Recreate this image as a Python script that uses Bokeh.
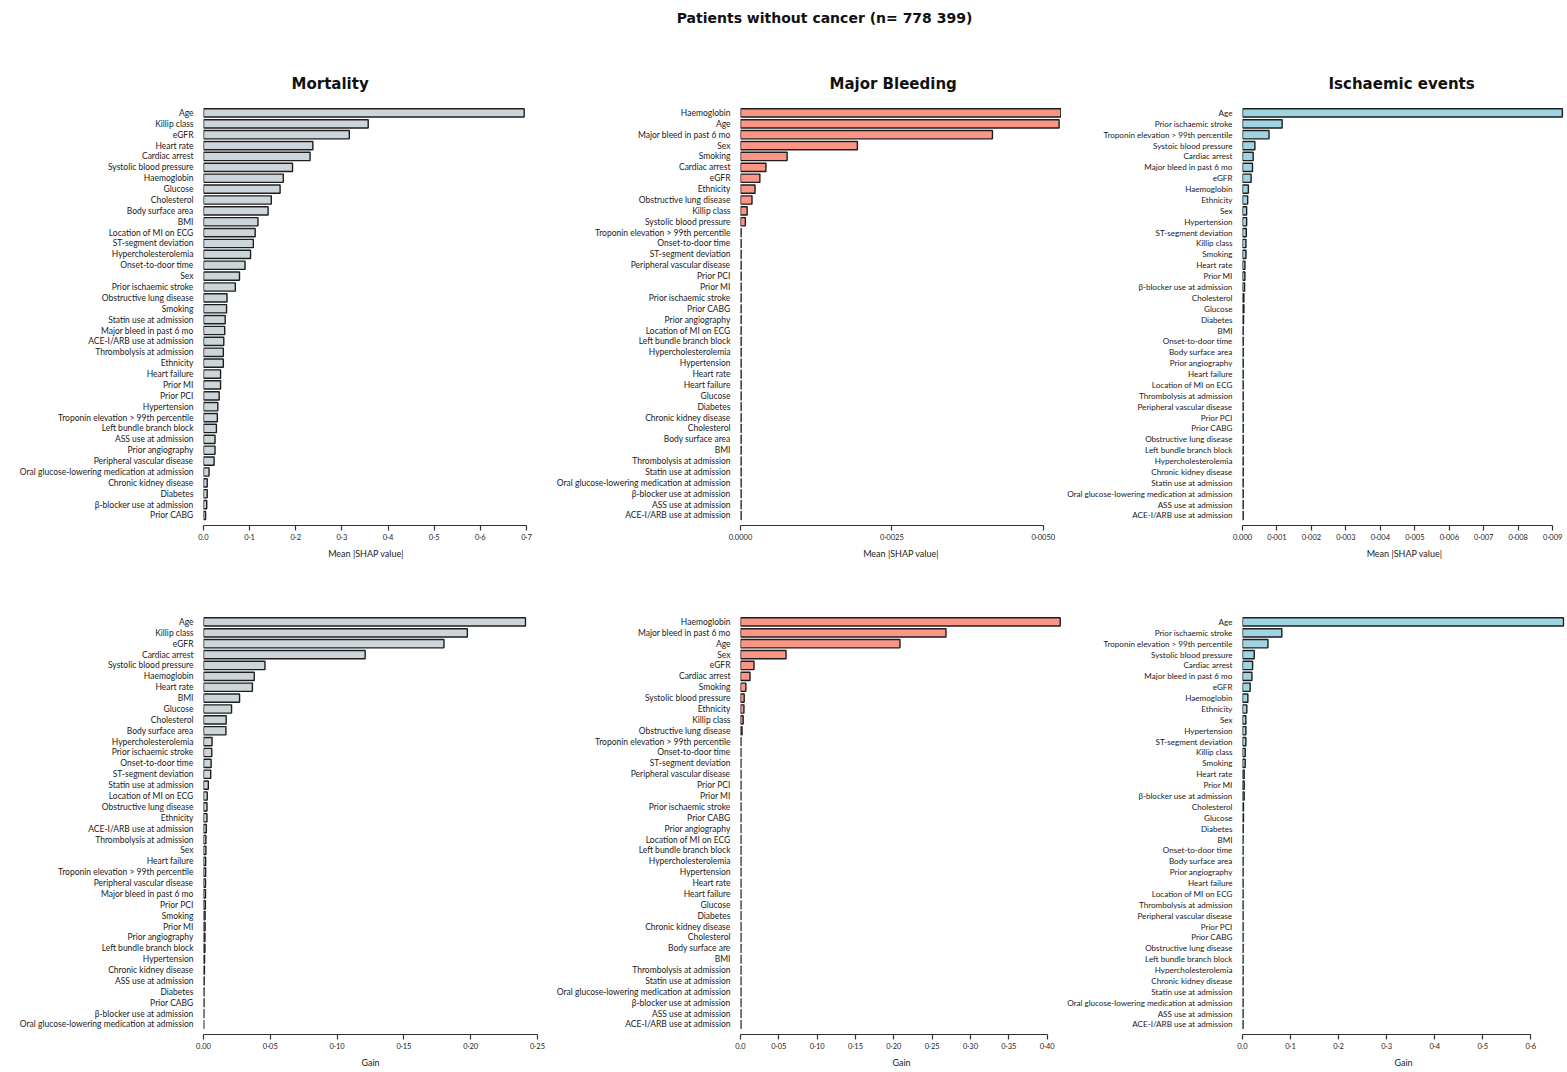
from bokeh.plotting import figure
from bokeh.layouts import column, row
from bokeh.models import Range1d, FixedTicker, ColumnDataSource
from bokeh.core.properties import value
from bokeh.embed import file_html
from bokeh.resources import INLINE

overall_title = "Patients without cancer (n= 778 399)"
panel_titles = ["Mortality", "Major Bleeding", "Ischaemic events"]
shap_label = "Mean |SHAP value|"
gain_label = "Gain"

# ---------------- Mortality, mean |SHAP| ----------------
mort_shap_features = [
    "Age", "Killip class", "eGFR", "Heart rate", "Cardiac arrest", "Systolic blood pressure",
    "Haemoglobin", "Glucose", "Cholesterol", "Body surface area", "BMI", "Location of MI on ECG",
    "ST-segment deviation", "Hypercholesterolemia", "Onset-to-door time", "Sex",
    "Prior ischaemic stroke", "Obstructive lung disease", "Smoking", "Statin use at admission",
    "Major bleed in past 6 mo", "ACE-I/ARB use at admission", "Thrombolysis at admission",
    "Ethnicity", "Heart failure", "Prior MI", "Prior PCI", "Hypertension",
    "Troponin elevation > 99th percentile", "Left bundle branch block", "ASS use at admission",
    "Prior angiography", "Peripheral vascular disease",
    "Oral glucose-lowering medication at admission", "Chronic kidney disease", "Diabetes",
    "β-blocker use at admission", "Prior CABG"]
mort_shap_values = [
    0.695, 0.357, 0.316, 0.237, 0.231, 0.193, 0.173, 0.166, 0.147, 0.140, 0.118, 0.112,
    0.108, 0.102, 0.090, 0.078, 0.069, 0.051, 0.050, 0.047, 0.046, 0.044, 0.043, 0.043,
    0.037, 0.037, 0.034, 0.031, 0.030, 0.028, 0.025, 0.025, 0.023, 0.012, 0.008, 0.008,
    0.007, 0.0045]
mort_shap_ticks = [0.0, 0.1, 0.2, 0.3, 0.4, 0.5, 0.6, 0.7]
mort_shap_ticklabels = ["0.0", "0·1", "0·2", "0·3", "0·4", "0·5", "0·6", "0·7"]

# ---------------- Major bleeding, mean |SHAP| ----------------
bleed_shap_features = [
    "Haemoglobin", "Age", "Major bleed in past 6 mo", "Sex", "Smoking", "Cardiac arrest", "eGFR",
    "Ethnicity", "Obstructive lung disease", "Killip class", "Systolic blood pressure",
    "Troponin elevation > 99th percentile", "Onset-to-door time", "ST-segment deviation",
    "Peripheral vascular disease", "Prior PCI", "Prior MI", "Prior ischaemic stroke", "Prior CABG",
    "Prior angiography", "Location of MI on ECG", "Left bundle branch block",
    "Hypercholesterolemia", "Hypertension", "Heart rate", "Heart failure", "Glucose", "Diabetes",
    "Chronic kidney disease", "Cholesterol", "Body surface area", "BMI",
    "Thrombolysis at admission", "Statin use at admission",
    "Oral glucose-lowering medication at admission", "β-blocker use at admission",
    "ASS use at admission", "ACE-I/ARB use at admission"]
bleed_shap_values = [
    0.00529, 0.00526, 0.00416, 0.00193, 0.00077, 0.00042, 0.00032, 0.00024, 0.00019, 0.00011,
    0.00008, 0.00001, 0.00001, 0.00001, 0.00001, 0.00001, 0.00001, 0.00001, 0.00001, 0.00001,
    0.00001, 0.00001, 0.00001, 0.00001, 0.00001, 0.00001, 0.00001, 0.00001, 0.00001, 0.00001,
    0.00001, 0.00001, 0.00001, 0.00001, 0.00001, 0.00001, 0.00001, 0.00001]
bleed_shap_ticks = [0.0, 0.0025, 0.005]
bleed_shap_ticklabels = ["0.0000", "0·0025", "0·0050"]

# ---------------- Ischaemic events, mean |SHAP| ----------------
isch_shap_features = [
    "Age", "Prior ischaemic stroke", "Troponin elevation > 99th percentile",
    "Systoic blood pressure", "Cardiac arrest", "Major bleed in past 6 mo", "eGFR", "Haemoglobin",
    "Ethnicity", "Sex", "Hypertension", "ST-segment deviation", "Killip class", "Smoking",
    "Heart rate", "Prior MI", "β-blocker use at admission", "Cholesterol", "Glucose", "Diabetes",
    "BMI", "Onset-to-door time", "Body surface area", "Prior angiography", "Heart failure",
    "Location of MI on ECG", "Thrombolysis at admission", "Peripheral vascular disease",
    "Prior PCI", "Prior CABG", "Obstructive lung disease", "Left bundle branch block",
    "Hypercholesterolemia", "Chronic kidney disease", "Statin use at admission",
    "Oral glucose-lowering medication at admission", "ASS use at admission",
    "ACE-I/ARB use at admission"]
isch_shap_values = [
    0.00928, 0.00115, 0.00077, 0.00036, 0.00031, 0.00029, 0.00025, 0.00017, 0.00015, 0.00012,
    0.00012, 0.00011, 0.00010, 0.00010, 0.00007, 0.00007, 0.00006, 0.00004, 0.00004, 0.00003,
    0.00002, 0.00002, 0.00002, 0.00002, 0.00002, 0.00002, 0.00002, 0.00002, 0.00002, 0.00002,
    0.00002, 0.00002, 0.00002, 0.00002, 0.00002, 0.00002, 0.00002, 0.00002]
isch_shap_ticks = [0.0, 0.001, 0.002, 0.003, 0.004, 0.005, 0.006, 0.007, 0.008, 0.009]
isch_shap_ticklabels = ["0.000", "0·001", "0·002", "0·003", "0·004", "0·005", "0·006",
                        "0·007", "0·008", "0·009"]

# ---------------- Mortality, gain ----------------
mort_gain_features = [
    "Age", "Killip class", "eGFR", "Cardiac arrest", "Systolic blood pressure", "Haemoglobin",
    "Heart rate", "BMI", "Glucose", "Cholesterol", "Body surface area", "Hypercholesterolemia",
    "Prior ischaemic stroke", "Onset-to-door time", "ST-segment deviation",
    "Statin use at admission", "Location of MI on ECG", "Obstructive lung disease", "Ethnicity",
    "ACE-I/ARB use at admission", "Thrombolysis at admission", "Sex", "Heart failure",
    "Troponin elevation > 99th percentile", "Peripheral vascular disease",
    "Major bleed in past 6 mo", "Prior PCI", "Smoking", "Prior MI", "Prior angiography",
    "Left bundle branch block", "Hypertension", "Chronic kidney disease", "ASS use at admission",
    "Diabetes", "Prior CABG", "β-blocker use at admission",
    "Oral glucose-lowering medication at admission"]
mort_gain_values = [
    0.241, 0.1975, 0.180, 0.121, 0.046, 0.038, 0.0366, 0.027, 0.021, 0.017, 0.0168, 0.0064,
    0.0062, 0.0057, 0.0054, 0.0036, 0.0028, 0.0026, 0.0026, 0.0021, 0.0018, 0.0018, 0.0016,
    0.0016, 0.0015, 0.0015, 0.0014, 0.0012, 0.0012, 0.0011, 0.0011, 0.0008, 0.0007, 0.0005,
    0.0004, 0.0004, 0.0003, 0.0002]
mort_gain_ticks = [0.0, 0.05, 0.1, 0.15, 0.2, 0.25]
mort_gain_ticklabels = ["0.00", "0·05", "0·10", "0·15", "0·20", "0·25"]

# ---------------- Major bleeding, gain ----------------
bleed_gain_features = [
    "Haemoglobin", "Major bleed in past 6 mo", "Age", "Sex", "eGFR", "Cardiac arrest", "Smoking",
    "Systolic blood pressure", "Ethnicity", "Killip class", "Obstructive lung disease",
    "Troponin elevation > 99th percentile", "Onset-to-door time", "ST-segment deviation",
    "Peripheral vascular disease", "Prior PCI", "Prior MI", "Prior ischaemic stroke", "Prior CABG",
    "Prior angiography", "Location of MI on ECG", "Left bundle branch block",
    "Hypercholesterolemia", "Hypertension", "Heart rate", "Heart failure", "Glucose", "Diabetes",
    "Chronic kidney disease", "Cholesterol", "Body surface are", "BMI",
    "Thrombolysis at admission", "Statin use at admission",
    "Oral glucose-lowering medication at admission", "β-blocker use at admission",
    "ASS use at admission", "ACE-I/ARB use at admission"]
bleed_gain_values = [
    0.417, 0.268, 0.208, 0.0594, 0.0176, 0.0124, 0.0070, 0.0048, 0.0045, 0.0035, 0.0020,
    0.0006, 0.0006, 0.0006, 0.0006, 0.0006, 0.0006, 0.0006, 0.0006, 0.0006, 0.0006, 0.0006,
    0.0006, 0.0006, 0.0006, 0.0006, 0.0006, 0.0006, 0.0006, 0.0006, 0.0006, 0.0006, 0.0006,
    0.0006, 0.0006, 0.0006, 0.0006, 0.0006]
bleed_gain_ticks = [0.0, 0.05, 0.1, 0.15, 0.2, 0.25, 0.3, 0.35, 0.4]
bleed_gain_ticklabels = ["0.0", "0·05", "0·10", "0·15", "0·20", "0·25", "0·30", "0·35", "0·40"]

# ---------------- Ischaemic events, gain ----------------
isch_gain_features = [
    "Age", "Prior ischaemic stroke", "Troponin elevation > 99th percentile",
    "Systolic blood pressure", "Cardiac arrest", "Major bleed in past 6 mo", "eGFR", "Haemoglobin",
    "Ethnicity", "Sex", "Hypertension", "ST-segment deviation", "Killip class", "Smoking",
    "Heart rate", "Prior MI", "β-blocker use at admission", "Cholesterol", "Glucose", "Diabetes",
    "BMI", "Onset-to-door time", "Body surface area", "Prior angiography", "Heart failure",
    "Location of MI on ECG", "Thrombolysis at admission", "Peripheral vascular disease",
    "Prior PCI", "Prior CABG", "Obstructive lung disease", "Left bundle branch block",
    "Hypercholesterolemia", "Chronic kidney disease", "Statin use at admission",
    "Oral glucose-lowering medication at admission", "ASS use at admission",
    "ACE-I/ARB use at admission"]
isch_gain_values = [
    0.668, 0.0818, 0.053, 0.0244, 0.021, 0.0196, 0.016, 0.0112, 0.009, 0.007, 0.007, 0.007,
    0.0056, 0.0056, 0.0035, 0.0035, 0.0035, 0.002, 0.002, 0.0015, 0.0012, 0.0012, 0.0012,
    0.0012, 0.0012, 0.0012, 0.0012, 0.0012, 0.0012, 0.0012, 0.0012, 0.0012, 0.0012, 0.0012,
    0.0012, 0.0012, 0.0012, 0.0012]
isch_gain_ticks = [0.0, 0.1, 0.2, 0.3, 0.4, 0.5, 0.6]
isch_gain_ticklabels = ["0.0", "0·1", "0·2", "0·3", "0·4", "0·5", "0·6"]

GREY = "#ccd5d9"
SALMON = "#fb9585"
BLUE = "#9fd4e3"
EDGE = "#1e1e1e"

LABEL_FONT = "Lato"
TITLE_FONT = "DejaVu Sans"


def panel(features, values, color, x_end, ticks, ticklabels, xlabel, width, height,
          bl, br, bt, bb, label_size="8.5px", title=None, title_offset=0):
    n = len(features)
    ypos = [n - 1 - i for i in range(n)]
    src = ColumnDataSource(dict(y=ypos, v=values, f=features))
    p = figure(width=width, height=height, output_backend="svg", toolbar_location=None,
               x_range=Range1d(0, x_end), y_range=Range1d(-0.92, n - 0.5),
               min_border_left=bl, min_border_right=br, min_border_top=bt,
               min_border_bottom=bb, outline_line_color=None)
    p.hbar(y="y", left=0, right="v", height=0.76, source=src, fill_color=color,
           line_color=EDGE, line_width=1.4)
    p.xgrid.visible = False
    p.ygrid.visible = False

    ya = p.yaxis[0]
    ya.ticker = FixedTicker(ticks=ypos)
    ya.major_label_overrides = {y: f for y, f in zip(ypos, features)}
    ya.axis_line_color = None
    ya.major_tick_line_color = None
    ya.minor_tick_line_color = None
    ya.major_label_standoff = 4
    ya.major_label_text_font = LABEL_FONT
    ya.major_label_text_font_size = label_size
    ya.major_label_text_color = "#1a1a1a"

    xa = p.xaxis[0]
    xa.ticker = FixedTicker(ticks=ticks)
    xa.major_label_overrides = {t: l for t, l in zip(ticks, ticklabels)}
    xa.bounds = (ticks[0], ticks[-1])
    xa.axis_line_color = "#333333"
    xa.axis_line_width = 1.2
    xa.major_tick_line_color = "#333333"
    xa.major_tick_line_width = 1.2
    xa.major_tick_in = 0
    xa.major_tick_out = 5
    xa.minor_tick_line_color = None
    xa.major_label_text_font = LABEL_FONT
    xa.major_label_text_font_size = "7.5px"
    xa.major_label_text_color = "#222222"
    xa.major_label_standoff = 2
    xa.axis_label = xlabel
    xa.axis_label_text_font = LABEL_FONT
    xa.axis_label_text_font_size = "9px"
    xa.axis_label_text_font_style = "normal"
    xa.axis_label_text_color = "#222222"
    xa.axis_label_standoff = 3

    if title is not None:
        p.title.text = title
        p.title.align = "left"
        p.title.offset = title_offset
        p.title.text_font = TITLE_FONT
        p.title.text_font_size = "15px"
        p.title.text_font_style = "bold"
        p.title.text_color = "#111111"
        p.title.standoff = 30
    return p


TOP_H = 546
BOT_H = 496

f1 = panel(mort_shap_features, mort_shap_values, GREY, 0.7044, mort_shap_ticks,
           mort_shap_ticklabels, shap_label, 537, TOP_H, 203, 9, 77, 51,
           title=panel_titles[0], title_offset=88)
f2 = panel(bleed_shap_features, bleed_shap_values, SALMON, 0.0053, bleed_shap_ticks,
           bleed_shap_ticklabels, shap_label, 524, TOP_H, 203, 0, 77, 51,
           title=panel_titles[1], title_offset=89)
f3 = panel(isch_shap_features, isch_shap_values, BLUE, 0.0094, isch_shap_ticks,
           isch_shap_ticklabels, shap_label, 506, TOP_H, 181, 1, 77, 51,
           label_size="8.1px", title=panel_titles[2], title_offset=86)

f4 = panel(mort_gain_features, mort_gain_values, GREY, 0.25, mort_gain_ticks,
           mort_gain_ticklabels, gain_label, 548, BOT_H, 203, 11, 40, 38)
f5 = panel(bleed_gain_features, bleed_gain_values, SALMON, 0.42, bleed_gain_ticks,
           bleed_gain_ticklabels, gain_label, 514, BOT_H, 192, 0, 40, 38)
f6 = panel(isch_gain_features, isch_gain_values, BLUE, 0.67, isch_gain_ticks,
           isch_gain_ticklabels, gain_label, 505, BOT_H, 180, 3, 40, 38,
           label_size="8.1px")

# overall title strip
tf = figure(width=1567, height=30, output_backend="svg", toolbar_location=None,
            x_range=Range1d(0, 1567), y_range=Range1d(0, 30), min_border=0,
            outline_line_color=None)
tf.axis.visible = False
tf.grid.visible = False
tf.text(x=[824], y=[13], text=[overall_title], text_align="center",
        text_baseline="middle", text_font=value(TITLE_FONT), text_font_size="14px",
        text_font_style="bold", text_color="#111111")

layout = column(tf, row(f1, f2, f3), row(f4, f5, f6))
open("out.html", "w").write(file_html(layout, INLINE))
